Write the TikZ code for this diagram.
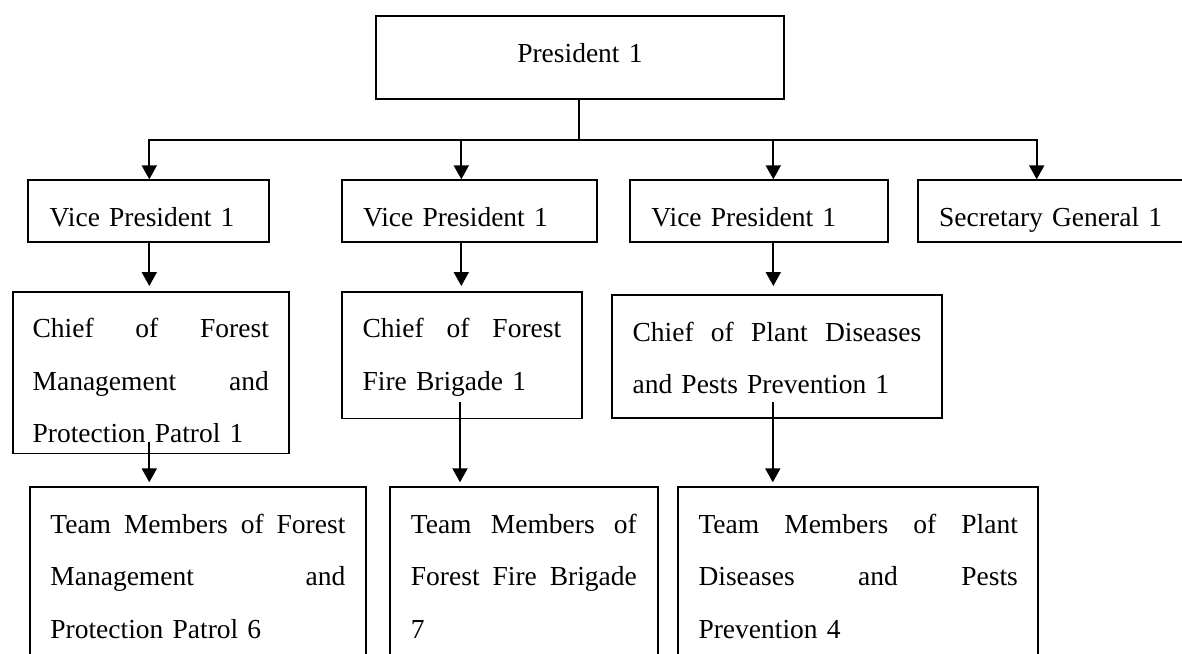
\documentclass[tikz,border=0pt]{standalone}
\usepackage{fontspec}
\setmainfont{Liberation Serif}
\usetikzlibrary{arrows.meta}
\newcommand{\jl}[2]{\leavevmode\hbox to #1{#2}}
\newcommand{\tp}[1]{\rule{0pt}{#1}}
\newcommand{\bt}[1]{\rule[-#1]{0pt}{0pt}}
\begin{document}
\begin{tikzpicture}[x=1pt,y=-1pt,
  box/.style={draw=black, line width=1.8pt, rectangle, anchor=north west,
    inner ysep=0pt, inner xsep=20.5pt, align=left,
    font=\fontsize{27.5}{52.3}\selectfont},
  conn/.style={line width=2pt},
  arr/.style={line width=2pt, -{Triangle[width=15pt,length=14pt]}}]
\clip (0,0) rectangle (1182,653);
\fill[white] (0,0) rectangle (1182,653);

% President
\node[box, inner xsep=0pt, text width=408.6pt, align=center] (pres) at (374.7,14.7)
  {\tp{47pt}President 1\bt{36pt}};

% Vice presidents / secretary
\node[box, inner xsep=21.5pt, text width=198pt] (vp1) at (27.3,179.3)
  {\tp{46.7pt}Vice President 1\bt{15pt}};
\node[box, inner xsep=21.5pt, text width=212pt] (vp2) at (340.7,179.3)
  {\tp{46.7pt}Vice President 1\bt{15pt}};
\node[box, inner xsep=21.5pt, text width=215.3pt] (vp3) at (629,179.3)
  {\tp{46.7pt}Vice President 1\bt{15pt}};
\node[box, inner xsep=21.5pt, text width=230pt] (sg) at (916.7,179.3)
  {\tp{46.7pt}Secretary General 1\bt{15pt}};

% Chiefs
\node[box, inner xsep=20pt, text width=236.3pt] (c1) at (11.7,291.3)
  {\tp{45.7pt}\jl{236.3pt}{Chief\hfill of\hfill Forest}\\\jl{236.3pt}{Management\hfill and}\\Protection Patrol 1\bt{11pt}};
\node[box, inner xsep=21pt, text width=198.6pt] (c2) at (340.7,291.3)
  {\tp{45.7pt}\jl{198.6pt}{Chief\hfill of\hfill Forest}\\Fire Brigade 1\bt{28.3pt}};
\node[box, inner xsep=21pt, text width=288.6pt] (c3) at (610.7,294)
  {\tp{46.7pt}\jl{288.6pt}{Chief\hfill of\hfill Plant\hfill Diseases}\\and Pests Prevention 1\bt{24pt}};

% Team members
\node[box, inner xsep=20.5pt, text width=295pt] (t1) at (29,486.3)
  {\tp{46.4pt}\jl{295pt}{Team\hfill Members\hfill of\hfill Forest}\\\jl{295pt}{Management\hfill and}\\Protection Patrol 6\bt{30pt}};
\node[box, inner xsep=20.7pt, text width=226pt] (t2) at (389.3,486.3)
  {\tp{46.4pt}\jl{226pt}{Team\hfill Members\hfill of}\\\jl{226pt}{Forest\hfill Fire\hfill Brigade}\\7\bt{30pt}};
\node[box, inner xsep=20.3pt, text width=319.4pt] (t3) at (677.3,486.3)
  {\tp{46.4pt}\jl{319.4pt}{Team\hfill Members\hfill of\hfill Plant}\\\jl{319.4pt}{Diseases\hfill and\hfill Pests}\\Prevention 4\bt{30pt}};

% bar coordinates
\coordinate (b1) at (149.3,140.3);
\coordinate (b2) at (461.3,140.3);
\coordinate (b3) at (773.3,140.3);
\coordinate (b4) at (1036.7,140.3);

\draw[conn] (pres.south -| 579.3,0) -- (579.3,140.3);
\draw[conn] (b1) -- (b4);
\draw[arr] ([yshift=1pt]b1) -- (b1 |- vp1.north);
\draw[arr] ([yshift=1pt]b2) -- (b2 |- vp2.north);
\draw[arr] ([yshift=1pt]b3) -- (b3 |- vp3.north);
\draw[arr] ([yshift=1pt]b4) -- (b4 |- sg.north);

% VP -> chief
\draw[arr, shorten >=5.3pt] (b1 |- vp1.south) -- (b1 |- c1.north);
\draw[arr, shorten >=5.3pt] (b2 |- vp2.south) -- (b2 |- c2.north);
\draw[arr, shorten >=8pt] (b3 |- vp3.south) -- (b3 |- c3.north);

% chief -> team
\draw[arr, shorten >=4pt] ([yshift=12.7pt]b1 |- c1.south) -- (b1 |- t1.north);
\draw[arr, shorten >=4pt] ([yshift=17.3pt]460,0 |- c2.south) -- (460,0 |- t2.north);
\draw[arr, shorten >=4pt] ([yshift=17.3pt]772.8,0 |- c3.south) -- (772.8,0 |- t3.north);
\end{tikzpicture}
\end{document}
